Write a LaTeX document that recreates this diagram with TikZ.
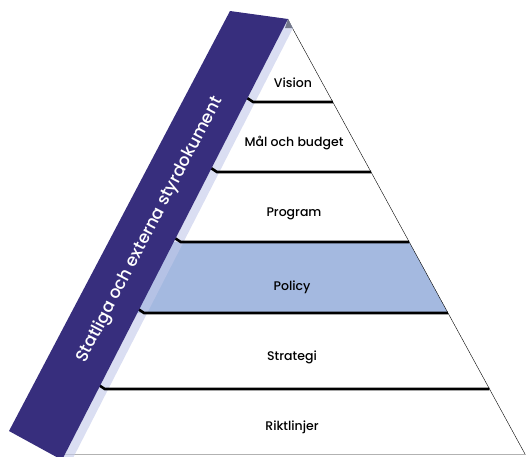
\documentclass[tikz,border=0pt]{standalone}
\usepackage{fontspec}
\setmainfont{Poppins}[UprightFont=* Medium]
\definecolor{bandblue}{RGB}{55,46,125}
\definecolor{sidelav}{RGB}{193,200,233}
\definecolor{policyblue}{RGB}{164,185,224}

\def\apx{288}
\def\slope{0.546}

\begin{document}
\begin{tikzpicture}[x=1pt,y=-1pt,every node/.style={align=center},
  lvl/.style={font=\fontsize{12.5}{14}\selectfont},
  divider/.style={line width=2.6pt}]
\useasboundingbox (0,0) rectangle (526,456);
\clip (0,0) rectangle (526,456);
% pyramid
\fill[policyblue] ({\apx-\slope*222},242) -- ({\apx+\slope*222},242) -- ({\apx+\slope*293},313) -- ({\apx-\slope*293},313) -- cycle;
\draw[thin] (\apx,20) -- (525,454);
\draw[gray!60] (60,454.5) -- (526,454.5);
\fill (\apx,19) -- (292.5,28) -- (285,28) -- cycle;
% side of the band
\fill[sidelav, fill opacity=0.6] (\apx,19) -- (293,28) -- (72,460) -- (62,460) -- cycle;
\foreach \y in {102,172,242,313,389}{
  \draw[divider] ({\apx-0.517*(\y-23)},{\y-4}) -- ++(6,4) -- ({\apx+\slope*(\y-20)},\y);
}
% band
\fill[bandblue] (230,11) -- (\apx,19) -- (62,460) -- (9,431) -- cycle;
\node[text=white,rotate=62.5,font=\fontsize{17}{20}\selectfont] (styr) at (150,230) {Statliga och externa styrdokument};
% levels
\node[lvl] (vision) at (293,83) {Vision};
\node[lvl] (mal) at (294,143) {Mål och budget};
\node[lvl] (program) at (294,214) {Program};
\node[lvl] (policy) at (292,287) {Policy};
\node[lvl] (strategi) at (292,357) {Strategi};
\node[lvl] (riktlinjer) at (292,427) {Riktlinjer};
\end{tikzpicture}
\end{document}
